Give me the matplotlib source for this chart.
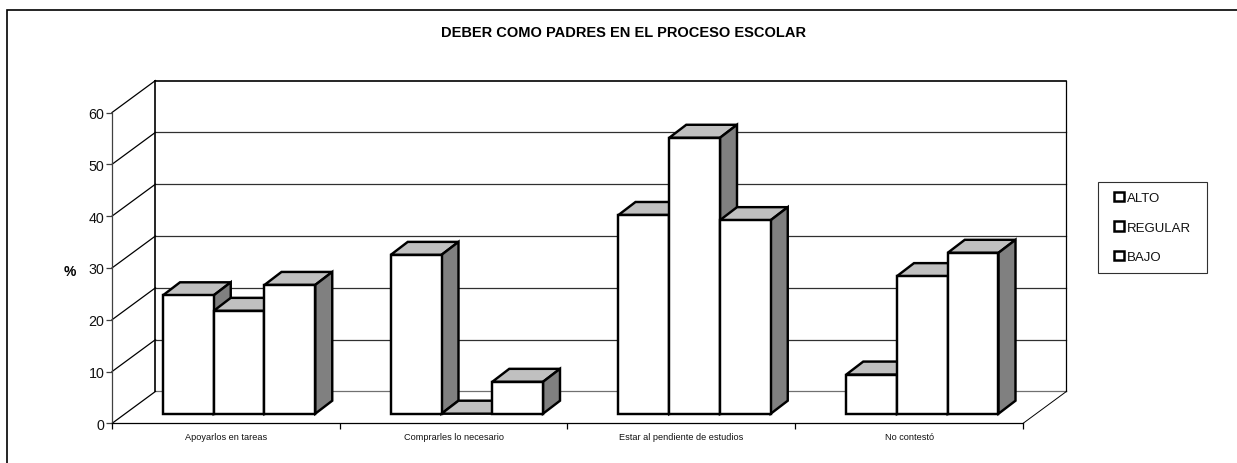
import matplotlib
matplotlib.use("Agg")
import matplotlib.pyplot as plt
from matplotlib.patches import Polygon, Rectangle

plt.rcParams['font.family'] = ['Liberation Sans', 'DejaVu Sans']

categories = ["Apoyarlos en tareas", "Comprarles lo necesario", "Estar al pendiente de estudios", "No contestó"]
alto = [22.85, 30.65, 38.35, 7.55]
regular = [19.85, 0, 53.25, 26.55]
bajo = [24.85, 6.15, 37.35, 31.05]
series_names = ["ALTO", "REGULAR", "BAJO"]
y_ticks = [0, 10, 20, 30, 40, 50, 60]
title = "DEBER COMO PADRES EN EL PROCESO ESCOLAR"

W, H = 1237, 464
fig = plt.figure(figsize=(W / 100, H / 100), dpi=100, facecolor="white")

# outer chart frame (its right and bottom edges fall outside the image)
fig.add_artist(Rectangle((7.5 / W, -5 / H), (1245 - 7.5) / W, (464 - 10.5 + 5) / H, transform=fig.transFigure,
                         fill=False, ec="black", lw=1.2))

x0, x1, ytop, ybot = 112, 1023, 113.5, 424.4
ax = fig.add_axes([x0 / W, 1 - ybot / H, (x1 - x0) / W, (ybot - ytop) / H])
ax.set_xlim(0, 4)
ax.set_ylim(0, 60)
ax.patch.set_visible(False)
for s in ["top", "right"]:
    ax.spines[s].set_visible(False)
ax.spines["left"].set_color("#404040")
ax.spines["left"].set_linewidth(0.9)
ax.spines["bottom"].set_linewidth(0.9)

ux = (x1 - x0) / 4       # px per category
uy = (ybot - ytop) / 60  # px per value unit
wall_dx, wall_dy = 43.5 / ux, 32 / uy
bar_dx, bar_dy = 17 / ux, 13 / uy
base = 9.7 / uy
bar_w = 50.75 / ux
first = 51 / ux

# walls and gridlines
for v in y_ticks:
    c = "#303030" if v else "#707070"
    lw = 1.2 if v == 60 else 0.9
    ax.plot([wall_dx, 4 + wall_dx], [v + wall_dy] * 2, color=c if v != 60 else "black", lw=lw, clip_on=False, zorder=1)
    ax.plot([0, wall_dx], [v, v + wall_dy], color="black", lw=0.9, clip_on=False, zorder=1)
ax.plot([wall_dx, wall_dx], [wall_dy, 60 + wall_dy], color="black", lw=1.2, clip_on=False, zorder=1)
ax.plot([4 + wall_dx] * 2, [wall_dy, 60 + wall_dy], color="black", lw=0.9, clip_on=False, zorder=1)
ax.plot([4, 4 + wall_dx], [0, wall_dy], color="black", lw=0.7, clip_on=False, zorder=1)

# 3-D bars
z = 3
for g in range(len(categories)):
    for b, vals in enumerate([alto, regular, bajo]):
        v = vals[g]
        l = g + first + b * bar_w
        r = l + bar_w
        bot, top = base, base + v
        kw = dict(ec="black", lw=1.75, joinstyle="miter", clip_on=False)
        ax.add_patch(Polygon([(l, top), (r, top), (r + bar_dx, top + bar_dy), (l + bar_dx, top + bar_dy)],
                             fc="#C0C0C0", zorder=z, **kw))
        ax.add_patch(Polygon([(r, bot), (r + bar_dx, bot + bar_dy), (r + bar_dx, top + bar_dy), (r, top)],
                             fc="#808080", zorder=z, **kw))
        if v > 0:
            ax.bar(l, v, bar_w, bottom=bot, align="edge", fc="white", zorder=z + 0.5, clip_on=False,
                   ec="black", lw=1.75)
        z += 1

ax.set_yticks(y_ticks)
ax.tick_params(axis="y", length=4, width=0.9, labelsize=10.3, pad=1.5, color="#404040", labelcolor="#111111")
ax.set_xticks(range(5))
ax.set_xticklabels([])
ax.tick_params(axis="x", length=4, width=0.9)
for i, c in enumerate(categories):
    ax.text(i + 0.5, -2.6, c, ha="center", va="center", fontsize=6.6, color="#111111")

ax.set_ylabel("%", fontsize=10, fontweight="bold", rotation=0)
ax.yaxis.set_label_coords((70 - x0) / (x1 - x0), (ybot - 272) / (ybot - ytop))
ax.yaxis.label.set_va("center")

fig.text(623.5 / W, 1 - 33 / H, title, ha="center", va="center", fontsize=10.55, fontweight="bold")

# legend: frame drawn separately so that its side and top padding can differ
fig.add_artist(Rectangle((1097.5 / W, 1 - 273.5 / H), 109.5 / W, 91 / H, transform=fig.transFigure,
                         fc="white", ec="#303030", lw=0.8))
handles = [Rectangle((0, 0), 1, 1, fc="white", ec="black", lw=1.8) for _ in series_names]
leg = fig.legend(handles, series_names, loc="center", bbox_to_anchor=(1152.5 / W, 1 - 228.5 / H),
                 fontsize=9.5, frameon=False, handlelength=0.72, handleheight=0.72, handletextpad=0.25,
                 labelspacing=1.3, borderpad=0, borderaxespad=0, labelcolor="#111111")
leg.set_zorder(5)

fig.savefig("out.png", dpi=100)
